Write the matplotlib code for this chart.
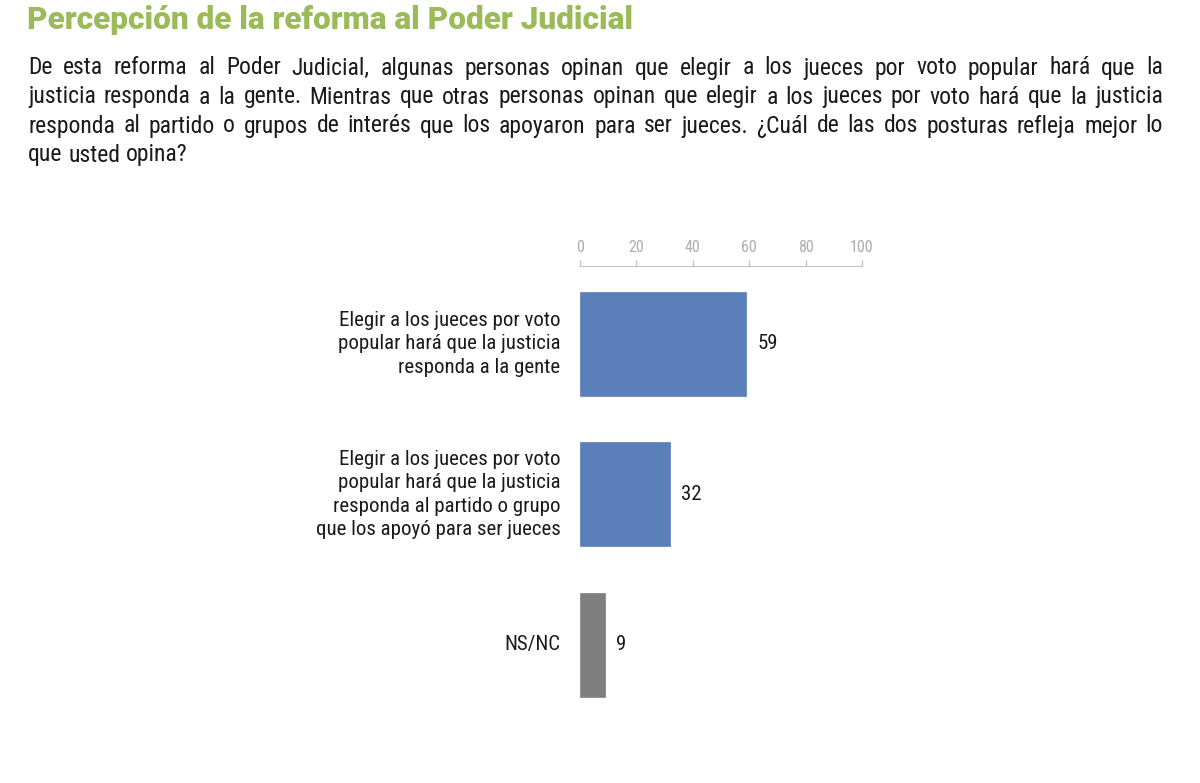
import matplotlib
matplotlib.use("Agg")
from matplotlib import pyplot as plt

# datos
categorias = [
    "Elegir a los jueces por voto\npopular hará que la justicia\nresponda a la gente",
    "Elegir a los jueces por voto\npopular hará que la justicia\nresponda al partido o grupo\nque los apoyó para ser jueces",
    "NS/NC",
]
valores = [59, 32, 9]
colores = ["#5B7FB8", "#5B7FB8", "#7F7F7F"]
ticks = [0, 20, 40, 60, 80, 100]

titulo = "Percepción de la reforma al Poder Judicial"
parrafo = [
    "De esta reforma al Poder Judicial, algunas personas opinan que elegir a los jueces por voto popular hará que la",
    "justicia responda a la gente. Mientras que otras personas opinan que elegir a los jueces por voto hará que la justicia",
    "responda al partido o grupos de interés que los apoyaron para ser jueces. ¿Cuál de las dos posturas refleja mejor lo",
    "que usted opina?",
]

plt.rcParams['font.family'] = ['Roboto Condensed', 'DejaVu Sans']
W, H = 1200, 783
fig = plt.figure(figsize=(W / 100, H / 100), dpi=100)

# titulo
fig.text(27 / W, 1 - 20 / H, titulo, fontsize=22.7, fontweight='black',
         family=['Roboto', 'DejaVu Sans'], color="#9BBB59", va='center', ha='left')

# parrafo justificado
renderer = fig.canvas.get_renderer()
x0, x1 = 28, 1163
ys = [68, 97, 126, 155]
for i, linea in enumerate(parrafo):
    palabras = linea.split(" ")
    textos = [fig.text(0, 1 - ys[i] / H, p, fontsize=17, color="#1a1a1a",
                       va='center', ha='left') for p in palabras]
    anchos = [t.get_window_extent(renderer).width for t in textos]
    if i < len(parrafo) - 1:
        hueco = (x1 - x0 - sum(anchos)) / (len(palabras) - 1)
    else:
        hueco = renderer.points_to_pixels(17) * 0.24
    x = x0
    for t, a in zip(textos, anchos):
        t.set_x(x / W)
        x += a + hueco

# grafico
top_px, bot_px = 266, 720
ax = fig.add_axes([580 / W, 1 - bot_px / H, (862 - 580) / W, (bot_px - top_px) / H])
pos = range(len(valores))
ax.barh(pos, valores, height=0.69, color=colores, edgecolor=colores, linewidth=0.5)
ax.set_xlim(0, 100)
ax.set_ylim(2.5, -0.518)
ax.xaxis.tick_top()
ax.set_xticks(ticks)
ax.tick_params(axis='x', colors="#C4C4C4", labelcolor="#ADADAD", labelsize=11.5,
               length=4, width=1, pad=4)
ax.set_yticks([])
for s in ['bottom', 'left', 'right']:
    ax.spines[s].set_visible(False)
ax.spines['top'].set_color("#C4C4C4")

for p, v in zip(pos, valores):
    ax.text(v + 3.8, p, str(v), va='center', ha='left', fontsize=15, color="#1a1a1a")
for p, c in zip(pos, categorias):
    ax.text(-7, p, c, va='center', ha='right', multialignment='right', fontsize=15,
            color="#1a1a1a", linespacing=1.3)

fig.savefig("out.png", dpi=100, facecolor='white')
